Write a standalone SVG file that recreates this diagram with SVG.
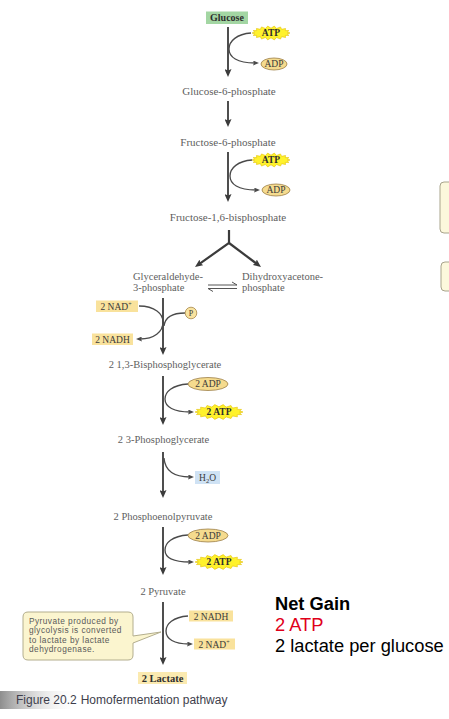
<svg xmlns="http://www.w3.org/2000/svg" width="449" height="719" viewBox="0 0 449 719">
<style>
.lbl{font-family:"Liberation Serif",serif;fill:#5e5e5e;font-size:10.5px}
.lbt{font-family:"Liberation Serif",serif;fill:#5e5e5e;font-size:11px;text-anchor:middle}
.bx{font-family:"Liberation Serif",serif;fill:#3a3a3a;font-size:9.5px;text-anchor:middle}
.bb{font-family:"Liberation Serif",serif;fill:#2e2e2e;font-size:9.5px;font-weight:bold;text-anchor:middle}
.main{stroke:#3b3b3b;stroke-width:1.8;fill:none}
.cur{stroke:#4a4a4a;stroke-width:1.3;fill:none}
.star{fill:#fff22c;stroke:#e2c000;stroke-width:0.6}
.adp{fill:#f5db8e;stroke:#9c7e45;stroke-width:0.8}
.nad{fill:#f9e29c}
.side{fill:#fcf8dc;stroke:#a8a48c;stroke-width:1}
.sans{font-family:"Liberation Sans",Arial,sans-serif}
</style>
<defs>
<marker id="ah" viewBox="0 0 8 7" refX="3" refY="3.5" markerWidth="8" markerHeight="7" markerUnits="userSpaceOnUse" orient="auto"><path d="M0,0 L8,3.5 L0,7 L1.5,3.5 Z" fill="#3b3b3b"/></marker>
<marker id="sh" viewBox="0 0 6 5" refX="2" refY="2.5" markerWidth="6" markerHeight="5" markerUnits="userSpaceOnUse" orient="auto"><path d="M0,0 L6,2.5 L0,5 L1,2.5 Z" fill="#4a4a4a"/></marker>
<polygon id="starS" points="19,0 16.25,0.83 17.85,2.39 14.29,2.4 14.55,4.5 10.61,3.68 9.5,6.06 5.64,4.51 3.3,6.89 0,4.8 -3.3,6.89 -5.64,4.51 -9.5,6.06 -10.61,3.68 -14.55,4.5 -14.29,2.4 -17.850,2.39 -16.25,0.83 -19,0 -16.25,-0.83 -17.85,-2.39 -14.29,-2.4 -14.55,-4.5 -10.61,-3.68 -9.5,-6.06 -5.64,-4.51 -3.3,-6.89 0,-4.8 3.3,-6.89 5.64,-4.51 9.5,-6.06 10.61,-3.68 14.55,-4.5 14.29,-2.4 17.85,-2.39 16.25,-0.83"/>
<polygon id="starL" points="24,0 20.68,0.9 22.56,2.57 18.19,2.6 18.38,4.82 13.5,3.98 12,6.5 7.18,4.89 4.18,7.39 0,5.2 -4.18,7.39 -7.18,4.89 -12,6.5 -13.5,3.98 -18.38,4.82 -18.19,2.6 -22.56,2.57 -20.68,0.9 -24,0 -20.68,-0.9 -22.56,-2.57 -18.19,-2.6 -18.38,-4.82 -13.5,-3.98 -12,-6.5 -7.18,-4.89 -4.18,-7.39 0,-5.2 4.18,-7.39 7.18,-4.89 12,-6.5 13.5,-3.98 18.38,-4.82 18.19,-2.6 22.56,-2.57 20.68,-0.9"/>
<linearGradient id="capg" x1="0" y1="0" x2="1" y2="0"><stop offset="0" stop-color="#8e8e8e"/><stop offset="1" stop-color="#ffffff" stop-opacity="0"/></linearGradient>
</defs>
<rect width="449" height="719" fill="#ffffff"/>

<g id="connectors">
<line class="main" x1="228" y1="27" x2="228" y2="72" marker-end="url(#ah)"/>
<path class="cur" d="M251,33 C237,34 229,41 229,49 C229,57 237,63 255,63" marker-end="url(#sh)"/>
<line class="main" x1="228" y1="101" x2="228" y2="122" marker-end="url(#ah)"/>
<line class="main" x1="228" y1="152" x2="228" y2="197" marker-end="url(#ah)"/>
<path class="cur" d="M252,160 C238,161 230,168 230,176 C230,184 238,190 256,190" marker-end="url(#sh)"/>
<path class="main" style="stroke-width:2.2" d="M229,230 V243 L199.1,264.1" marker-end="url(#ah)"/>
<path class="main" style="stroke-width:2.2" d="M229,243 L257,264" marker-end="url(#ah)"/>
<path stroke="#555" stroke-width="1" fill="none" d="M208,285 H237 L232,282 M237,288.5 H208 L213,291.5"/>
<line class="main" x1="163" y1="298" x2="163" y2="350" marker-end="url(#ah)"/>
<path class="cur" d="M139,306 C155,306 163,314 163,322 C163,332 154,339 140,339" marker-end="url(#sh)"/>
<path class="cur" d="M185,313 C172,313 165,318 164,326"/>
<line class="main" x1="163" y1="376" x2="163" y2="420" marker-end="url(#ah)"/>
<path class="cur" d="M188,384 C172,385 165,392 165,399 C165,407 174,412 190,412" marker-end="url(#sh)"/>
<line class="main" x1="163" y1="452" x2="163" y2="493" marker-end="url(#ah)"/>
<path class="cur" d="M164,458 C165,470 172,477 190,477" marker-end="url(#sh)"/>
<line class="main" x1="163" y1="527" x2="163" y2="570" marker-end="url(#ah)"/>
<path class="cur" d="M188,535 C172,536 165,543 165,550 C165,558 174,562 190,562" marker-end="url(#sh)"/>
<line class="main" x1="163" y1="602" x2="163" y2="660" marker-end="url(#ah)"/>
<path class="cur" d="M188,616 C173,617 166,624 166,631 C166,639 174,644 189,644" marker-end="url(#sh)"/>
</g>

<g id="glucose"><rect x="206" y="11.5" width="42" height="12.5" fill="#a3d6a3"/><text class="bb" x="227" y="21.3" style="font-size:10px">Glucose</text></g>
<g id="atp1"><use href="#starS" class="star" transform="translate(271,33)"/><text class="bb" x="271" y="36.4">ATP</text></g>
<g id="adp1"><ellipse class="adp" cx="274" cy="64" rx="13" ry="6"/><text class="bx" x="274" y="67.4">ADP</text></g>
<g id="g6p"><text class="lbt" x="229" y="94.5">Glucose-6-phosphate</text></g>
<g id="f6p"><text class="lbt" x="228" y="145.5">Fructose-6-phosphate</text></g>
<g id="atp2"><use href="#starS" class="star" transform="translate(271,160)"/><text class="bb" x="271" y="163.4">ATP</text></g>
<g id="adp2"><ellipse class="adp" cx="276" cy="190" rx="14" ry="6"/><text class="bx" x="276" y="193.4">ADP</text></g>
<g id="f16bp"><text class="lbt" x="228" y="220.5">Fructose-1,6-bisphosphate</text></g>
<g id="g3p"><text class="lbl" x="133" y="280">Glyceraldehyde-</text><text class="lbl" x="133" y="291">3-phosphate</text></g>
<g id="dhap"><text class="lbl" x="242" y="280">Dihydroxyacetone-</text><text class="lbl" x="242" y="291">phosphate</text></g>
<g id="nad1"><rect class="nad" x="96" y="300.5" width="42" height="11.5"/><text class="bx" x="116" y="309.6">2 NAD<tspan font-size="6" dy="-3.5">+</tspan></text></g>
<g id="nadh1"><rect class="nad" x="92" y="333.5" width="41" height="11.5"/><text class="bx" x="112.5" y="342.6">2 NADH</text></g>
<g id="pi"><circle cx="191" cy="313" r="5.8" fill="#f8e3a0" stroke="#a88848" stroke-width="0.8"/><text class="bx" x="191" y="316.2" style="font-size:8px">P</text></g>
<g id="bpg"><text class="lbl" x="165" y="367.5" text-anchor="middle">2 1,3-Bisphosphoglycerate</text></g>
<g id="adp3"><ellipse class="adp" cx="208" cy="384" rx="20" ry="6.5"/><text class="bx" x="208" y="387.4">2 ADP</text></g>
<g id="atp3"><use href="#starL" class="star" transform="translate(219,412)"/><text class="bb" x="219" y="415.4">2 ATP</text></g>
<g id="pg3"><text class="lbl" x="163.5" y="442.5" text-anchor="middle">2 3-Phosphoglycerate</text></g>
<g id="h2o"><rect x="195" y="471" width="25" height="13" fill="#cfe2f4"/><text class="bx" x="207.5" y="480.8">H<tspan font-size="6.5" dy="2">2</tspan><tspan dy="-2">O</tspan></text></g>
<g id="pep"><text class="lbl" x="163" y="519.5" text-anchor="middle">2 Phosphoenolpyruvate</text></g>
<g id="adp4"><ellipse class="adp" cx="208" cy="535.5" rx="20" ry="6.5"/><text class="bx" x="208" y="538.9">2 ADP</text></g>
<g id="atp4"><use href="#starL" class="star" transform="translate(219,562)"/><text class="bb" x="219" y="565.4">2 ATP</text></g>
<g id="pyr"><text class="lbl" x="163" y="594.5" text-anchor="middle">2 Pyruvate</text></g>
<g id="nadh2"><rect class="nad" x="189" y="610.5" width="44" height="11"/><text class="bx" x="211" y="619.5">2 NADH</text></g>
<g id="nad2"><rect class="nad" x="194" y="638.5" width="41" height="11"/><text class="bx" x="214" y="647.5">2 NAD<tspan font-size="6" dy="-3.5">+</tspan></text></g>
<g id="lactate"><rect x="138" y="672" width="49" height="12" fill="#fbeab0"/><text class="bb" x="162.5" y="681.5" style="font-size:10.5px">2 Lactate</text></g>

<g id="callout">
<path d="M28,612 H128 Q133,612 133,617 V636 L161,632 L133,643 V655 Q133,660 128,660 H28 Q23,660 23,655 V617 Q23,612 28,612 Z" fill="#fbf5cf" stroke="#b3ae8e" stroke-width="1"/>
<text class="sans" font-size="8.3" letter-spacing="0.45" fill="#5a5a5a"><tspan x="29" y="623.5">Pyruvate produced by</tspan><tspan x="29" y="633">glycolysis is converted</tspan><tspan x="29" y="642.5">to lactate by lactate</tspan><tspan x="29" y="652">dehydrogenase.</tspan></text>
</g>

<g id="sideboxes"><rect class="side" x="440" y="182" width="20" height="51" rx="4"/><rect class="side" x="441" y="262" width="20" height="29" rx="4"/></g>

<g id="netgain" class="sans" font-size="18.3">
<text x="275" y="610" font-weight="bold" fill="#000">Net Gain</text>
<text x="275" y="631" fill="#e0001a">2 ATP</text>
<text x="275" y="651.5" fill="#000">2 lactate per glucose</text>
</g>

<g id="caption"><rect x="0" y="691" width="80" height="18" fill="url(#capg)"/><text class="sans" x="16" y="704" font-size="12" fill="#3e3e4c">Figure 20.2<tspan dx="4">Homofermentation pathway</tspan></text></g>
</svg>
